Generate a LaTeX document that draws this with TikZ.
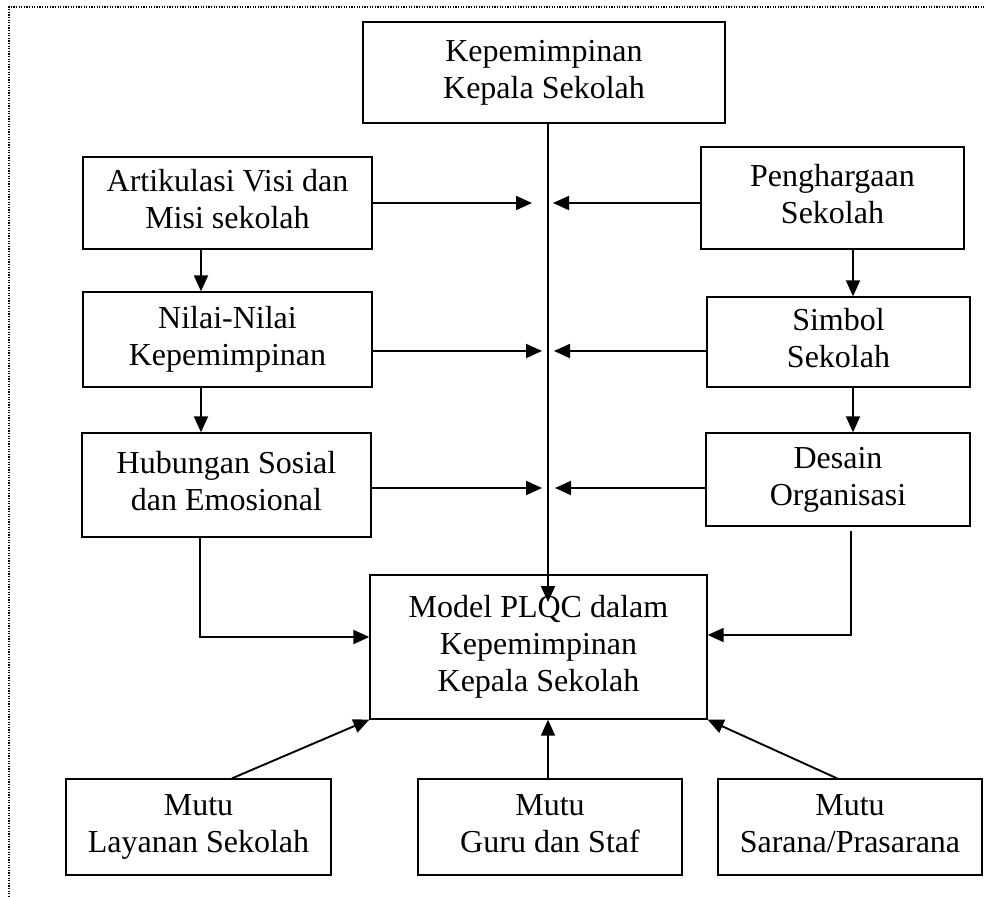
\documentclass[tikz,border=0pt]{standalone}
\usepackage{fontspec}
\setmainfont{Liberation Serif}
\usetikzlibrary{arrows.meta}
\begin{document}
\begin{tikzpicture}[x=1pt,y=-1pt,
  box/.style={draw, line width=1.3pt, rectangle, align=center, inner sep=0pt,
    font=\fontsize{32}{37}\selectfont},
  conn/.style={line width=1.9pt},
  arr/.style={conn, -{Triangle[length=16pt,width=14pt]}},
  frame/.style={line width=1.3pt, dash pattern=on 1.3pt off 1.3pt}]
\useasboundingbox (0,0) rectangle (986,897);

% outer frame (only the top and left sides lie inside the page)
\draw[frame] (9,897) -- (9,7) -- (986,7);

% boxes
\node[box, minimum width=362pt, minimum height=101pt] (top) at (544,72.5)
  {\strut Kepemimpinan\\Kepala Sekolah\strut};
\node[box, minimum width=289pt, minimum height=92pt] (art) at (227.5,203)
  {\strut Artikulasi Visi dan\\Misi sekolah\strut};
\node[box, minimum width=289pt, minimum height=95pt] (nil) at (227.5,339.5)
  {\strut Nilai-Nilai\\Kepemimpinan\strut};
\node[box, minimum width=289pt, minimum height=104pt] (hub) at (226.5,485)
  {\strut Hubungan Sosial\\dan Emosional\strut};
\node[box, minimum width=263pt, minimum height=102pt] (peng) at (832.5,198)
  {\strut Penghargaan\\Sekolah\strut};
\node[box, minimum width=263pt, minimum height=90pt] (sim) at (838.5,342)
  {\strut Simbol\\Sekolah\strut};
\node[box, minimum width=264pt, minimum height=93pt] (des) at (838,479.5)
  {\strut Desain\\Organisasi\strut};
\node[box, minimum width=337pt, minimum height=144pt] (model) at (538.5,647)
  {\strut Model PLQC dalam\\Kepemimpinan\\Kepala Sekolah\strut};
\node[box, minimum width=265pt, minimum height=96pt] (m1) at (198.5,827)
  {\strut Mutu\\Layanan Sekolah\strut};
\node[box, minimum width=264pt, minimum height=96pt] (m2) at (550,827)
  {\strut Mutu\\Guru dan Staf\strut};
\node[box, minimum width=264pt, minimum height=96pt] (m3) at (850,827)
  {\strut Mutu\\Sarana/Prasarana\strut};

% guide coordinates for connectors
\coordinate (spine) at (548,602);
\coordinate (tL1) at (532,203);
\coordinate (tR1) at (553,203);
\coordinate (tL2) at (542,351);
\coordinate (tR2) at (554,351);
\coordinate (tL3) at (542,488);
\coordinate (tR3) at (555,488);
\coordinate (colL) at (201,0);
\coordinate (colR) at (853,0);
\coordinate (hubTurn) at (200,637);
\coordinate (desTop) at (851,531);
\coordinate (desTurn) at (851,635);
\coordinate (m1Out) at (232,0);
\coordinate (m3Out) at (837,0);

% central spine
\draw[arr] (top.south -| spine) -- (spine);

% side inputs into the spine
\draw[arr] (art.east |- tL1) -- (tL1);
\draw[arr] (peng.west |- tR1) -- (tR1);
\draw[arr] (nil.east |- tL2) -- (tL2);
\draw[arr] (sim.west |- tR2) -- (tR2);
\draw[arr] (hub.east |- tL3) -- (tL3);
\draw[arr] (des.west |- tR3) -- (tR3);

% column links
\draw[arr] (art.south -| colL) -- (nil.north -| colL);
\draw[arr] (nil.south -| colL) -- (hub.north -| colL);
\draw[arr] (peng.south -| colR) -- (sim.north -| colR);
\draw[arr] (sim.south -| colR) -- (des.north -| colR);

% elbow links into the model
\draw[arr] (hub.south -| hubTurn) -- (hubTurn) -- (model.west |- hubTurn);
\draw[arr] (desTop) -- (desTurn) -- (model.east |- desTurn);

% quality inputs from below
\draw[arr] (m1.north -| m1Out) -- (model.south west);
\draw[arr] (m2.north -| spine) -- (model.south -| spine);
\draw[arr] (m3.north -| m3Out) -- (model.south east);
\end{tikzpicture}
\end{document}
